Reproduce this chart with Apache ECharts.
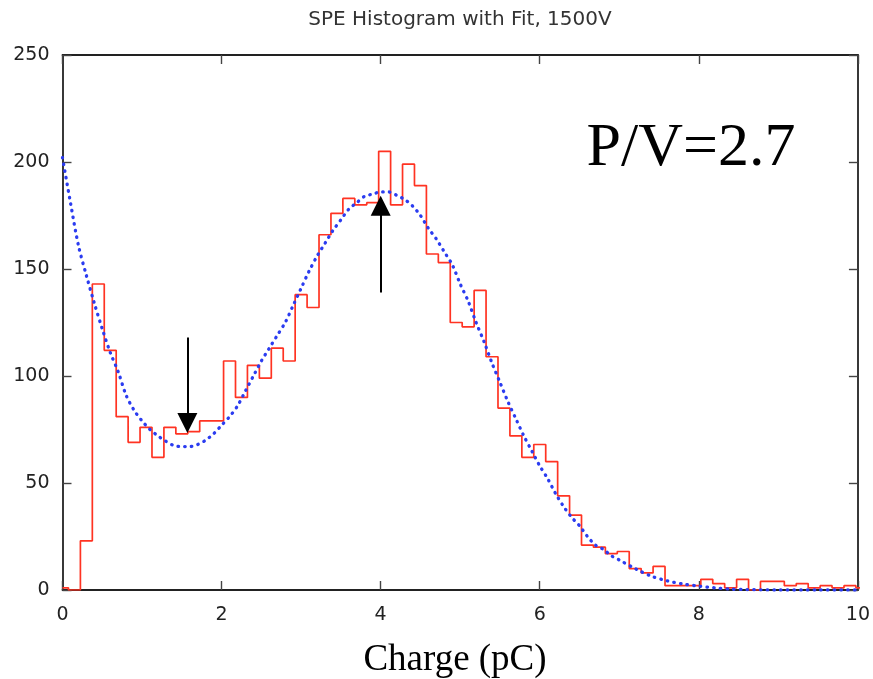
<!DOCTYPE html>
<html>
<head>
<meta charset="utf-8">
<script src="https://cdn.jsdelivr.net/npm/echarts@6/dist/echarts.min.js"></script>
<style>
html,body{margin:0;padding:0;background:#fff;}
#chart{width:873px;height:679px;}
</style>
</head>
<body>
<div id="chart"></div>
<script>
// ---- data ----
var titleText = 'SPE Histogram with Fit, 1500V';
var xAxisTitle = 'Charge (pC)';
var ratioText = 'P/V=2.7';

// histogram: bin width 0.15 pC, bins centred on multiples of 0.15
var binWidth = 0.15;
var histCounts = [1, 0, 23, 143, 112, 81, 69, 76, 62, 76,
  73, 74, 79, 79, 107, 90, 105, 99, 113, 107,
  138, 132, 166, 176, 183, 180, 181, 205, 180, 199,
  189, 157, 153, 125, 123, 140, 109, 85, 72, 62,
  68, 60, 44, 35, 21, 20, 17, 18, 10, 8,
  11, 2, 2, 2, 5, 3, 1, 5, 0, 4,
  4, 2, 3, 1, 2, 1, 2, 1];

// fit curve
var fitX = [0, 0.1, 0.2, 0.3, 0.4, 0.5, 0.6, 0.7, 0.8, 0.9,
  1.0, 1.1, 1.2, 1.3, 1.4, 1.5, 1.6, 1.7, 1.8, 1.9,
  2.0, 2.1, 2.2, 2.3, 2.4, 2.5, 2.6, 2.7, 2.8, 2.9,
  3.0, 3.1, 3.2, 3.3, 3.4, 3.5, 3.6, 3.7, 3.8, 3.9,
  4.0, 4.1, 4.2, 4.3, 4.4, 4.5, 4.6, 4.7, 4.8, 4.9,
  5.0, 5.1, 5.2, 5.3, 5.4, 5.5, 5.6, 5.7, 5.8, 5.9,
  6.0, 6.1, 6.2, 6.3, 6.4, 6.5, 6.6, 6.7, 6.8, 6.9,
  7.0, 7.2, 7.4, 7.6, 7.8, 8.0, 8.2, 8.4, 8.6, 9.0, 9.5, 10.0];
var fitY = [202, 181, 161, 147, 134, 122, 111, 102, 91, 84,
  79, 75, 72, 69.5, 67.5, 67, 67, 68, 70, 73,
  77, 81, 86, 93, 100, 107, 113, 119, 125, 133,
  141, 149, 156, 162, 168, 173, 178, 181, 184, 185,
  186, 186, 184.5, 182.5, 179.5, 175, 169, 164, 158, 152,
  143, 135, 125, 116, 106, 97, 88, 80, 72, 65,
  58, 52, 45, 39, 34, 30, 25, 21, 19, 16,
  14, 10, 6.5, 4.3, 2.8, 1.8, 1, 0.4, 0.2, 0, 0, 0];

// arrows: x position, tail value, head-centre value
var arrowX = [1.57, 4.0];
var arrowTail = [118, 139];
var arrowHead = [78, 179.5];

var xTicks = [0, 10, 2];   // min, max, interval
var yTicks = [0, 250, 50];

// ---- build ----
var histData = histCounts.map(function (c, i) { return [i * binWidth, c]; });
var fitData = fitX.map(function (x, i) { return [x, fitY[i]]; });
var arrowData = arrowX.map(function (x, i) { return { coords: [[x, arrowTail[i]], [x, arrowHead[i]]] }; });

var frameColor = '#222';
var labelFont = { fontFamily: 'DejaVu Sans', fontSize: 19, color: '#222' };

function axisBase(extra) {
  var a = {
    axisLine: { show: true, onZero: false, lineStyle: { color: frameColor, width: 1.8 } },
    axisTick: { show: true, inside: true, length: 9, lineStyle: { color: '#444', width: 1.4 } },
    splitLine: { show: false }
  };
  for (var k in extra) a[k] = extra[k];
  return a;
}

var chart = echarts.init(document.getElementById('chart'), null, { renderer: 'canvas' });
chart.setOption({
  animation: false,
  backgroundColor: '#fff',
  grid: { left: 62.5, right: 15, top: 55, bottom: 89, containLabel: false },
  xAxis: [
    axisBase({ type: 'value', position: 'bottom', min: xTicks[0], max: xTicks[1], interval: xTicks[2],
      axisLabel: Object.assign({ margin: 16 }, labelFont) }),
    axisBase({ type: 'value', position: 'top', min: xTicks[0], max: xTicks[1], interval: xTicks[2],
      axisLabel: { show: false } })
  ],
  yAxis: [
    axisBase({ type: 'value', position: 'left', min: yTicks[0], max: yTicks[1], interval: yTicks[2],
      axisLabel: Object.assign({ margin: 13 }, labelFont) }),
    axisBase({ type: 'value', position: 'right', min: yTicks[0], max: yTicks[1], interval: yTicks[2],
      axisLabel: { show: false } })
  ],
  graphic: [
    { type: 'text', x: 460, y: 20, style: { text: titleText, font: '20px "DejaVu Sans"', fill: '#333', textAlign: 'center', textVerticalAlign: 'middle' } },
    { type: 'text', x: 455, y: 660, style: { text: xAxisTitle, font: '37px "Liberation Serif"', fill: '#000', textAlign: 'center', textVerticalAlign: 'middle' } },
    { type: 'text', x: 691, y: 149, style: { text: ratioText, font: '62px "Liberation Serif"', fill: '#000', textAlign: 'center', textVerticalAlign: 'middle' } }
  ],
  series: [
    {
      type: 'line', name: 'hist', data: histData, step: 'middle', showSymbol: false, symbol: 'none',
      clip: true, lineStyle: { color: '#ff3322', width: 1.7 }, z: 3
    },
    {
      type: 'line', name: 'fit', data: fitData, smooth: 0.3, showSymbol: false, symbol: 'none',
      clip: true, lineStyle: { color: '#2b3cf0', width: 3.3, type: [0.5, 6.2], cap: 'round' }, z: 4
    },
    {
      type: 'lines', coordinateSystem: 'cartesian2d', data: arrowData,
      symbol: ['none', 'triangle'], symbolSize: [20, 20],
      lineStyle: { color: '#000', width: 2, opacity: 1 }, itemStyle: { color: '#000' }, z: 5
    }
  ]
});
</script>
</body>
</html>
